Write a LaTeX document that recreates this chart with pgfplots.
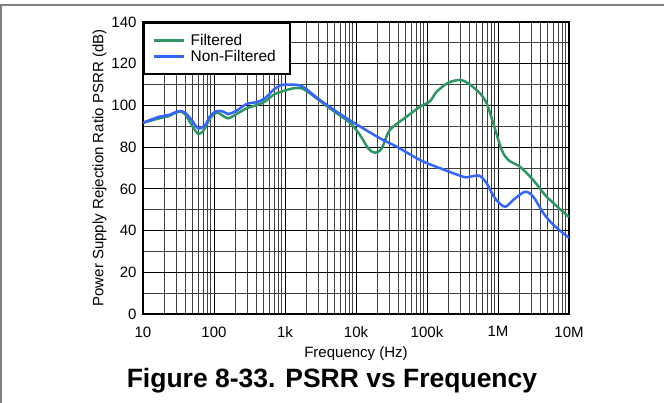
\documentclass[border=0pt]{standalone}
\usepackage{fontspec}
\setmainfont{Liberation Sans}
\usepackage{pgfplots}
\pgfplotsset{compat=1.18}
\definecolor{fgreen}{RGB}{46,150,98}
\definecolor{nblue}{RGB}{51,102,255}
\begin{document}
\begin{tikzpicture}
\useasboundingbox (-143pt,-89pt) rectangle (521pt,314pt);
\begin{axis}[
 at={(0,0)}, anchor=south west,
 scale only axis, width=426pt, height=292pt,
 xmode=log, xmin=10, xmax=1e7, ymin=0, ymax=140,
 xtick={10,100,1000,10000,100000,1000000,10000000},
 xticklabels={10,100,1k,10k,100k,1M,10M},
 ytick={0,20,...,140},
 minor ytick={10,30,...,130},
 grid=both,
 major grid style={black, line width=0.9pt},
 minor grid style={black!75, line width=0.9pt},
 axis line style={line width=2.6pt},
 tick style={draw=none},
 /pgf/number format/assume math mode=true,
 tick label style={font=\fontsize{15}{17}\selectfont},
 xticklabel style={yshift=-9pt},
 yticklabel style={xshift=-3pt},
 label style={font=\fontsize{15}{17}\selectfont},
 xlabel={Frequency (Hz)},
 xlabel style={yshift=-2pt},
 ylabel={Power Supply Rejection Ratio PSRR (dB)},
 ylabel style={yshift=-2pt},
 legend style={at={(0,1)}, anchor=north west, draw=black, line width=2.2pt, fill=white,
   font=\fontsize{15.5}{17}\selectfont, inner xsep=9pt, inner ysep=10pt, row sep=1.5pt,
   nodes={inner xsep=5pt, inner ysep=1pt}},
 legend cell align=left,
 legend image code/.code={\draw[#1] (0pt,0pt) -- (30pt,0pt);},
]
\addplot[fgreen, line width=2.5pt, smooth, tension=0.5] coordinates {
(10,91.7) (17,93.8) (23,94.9) (32,97) (39,95.9) (48.5,90.6) (60,86.3) (72,88.2) (88,93.8) (110,96.5) (135,94.9) (160,93.8) (208,95.9) (288,98.6) (400,100.2) (520,101.8) (685,105) (890,106.6) (1310,108.2) (1720,108.2) (2240,105.8) (4280,98.6) (8200,91.7) (11400,85.8) (14900,79.4) (18500,77.3) (23000,79.4) (30000,88.2) (51600,94.6) (80000,99.4) (110000,102) (137000,106.6) (200000,110.9) (292000,112.2) (382000,110.6) (557000,105.8) (692000,101) (859000,91.4) (1130000,78.6) (1400000,73.8) (2040000,70.6) (3140000,64.2) (4850000,56.2) (10000000,46.5)
};
\addlegendentry{Filtered}
\addplot[nblue, line width=2.5pt, smooth, tension=0.5] coordinates {
(10,91.7) (17,94.6) (23,95.4) (32,97.3) (39,96.5) (48.5,93) (60,89) (75,90.6) (88,94.9) (110,97.3) (135,97) (160,95.9) (208,97.5) (288,100.7) (400,101.6) (520,103.4) (685,107.4) (890,109.8) (1170,110) (1620,109.6) (2020,107.7) (3100,102.6) (7400,93.8) (21900,84.2) (37500,80.2) (80000,73.8) (152000,69.9) (324000,65.8) (398000,65.8) (545000,66.3) (692000,62.7) (906000,55.5) (1250000,51.4) (1640000,54.7) (2400000,58.6) (3140000,56.2) (4370000,48.3) (6050000,42.7) (10000000,36.5)
};
\addlegendentry{Non-Filtered}
\end{axis}
\draw[gray, line width=1.2pt] (-143pt,309pt) -- (521pt,309pt);
\draw[gray, line width=1.2pt] (-142pt,309pt) -- (-142pt,-89pt);
\node[anchor=base, font=\fontsize{26.5}{30}\selectfont\bfseries] at (189pt,-74pt) {Figure 8-33. PSRR vs Frequency};
\end{tikzpicture}
\end{document}
